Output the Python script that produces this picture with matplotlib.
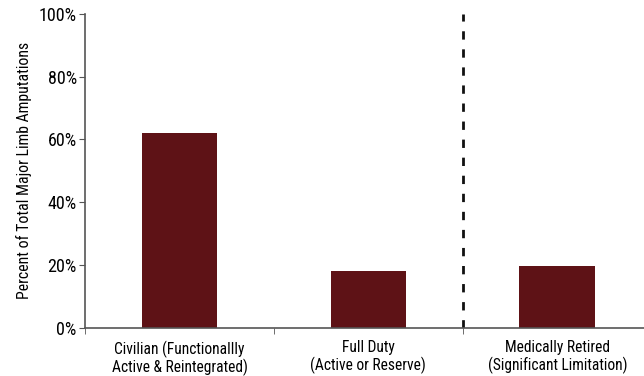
import matplotlib.pyplot as plt
from matplotlib.ticker import FuncFormatter

categories = ["Civilian (Functionallly\nActive & Reintegrated)",
              "Full Duty\n(Active or Reserve)",
              "Medically Retired\n(Significant Limitation)"]
values = [62, 18.2, 19.7]
y_ticks = [0, 20, 40, 60, 80, 100]

plt.rcParams['font.family'] = ['Roboto Condensed', 'DejaVu Sans']

fig = plt.figure(figsize=(6.44, 3.76), dpi=100)
ax = fig.add_axes([0.132, 0.128, 0.880, 0.835])

x = range(len(categories))
ax.bar(x, values, width=0.40, color='#5e1216')
ax.axvline(1.5, color='#111111', linestyle=(0, (3, 3.5)), linewidth=2)

ax.set_xlim(-0.5, 2.5)
ax.set_ylim(0, 100)
ax.set_yticks(y_ticks)
ax.yaxis.set_major_formatter(FuncFormatter(lambda v, p: f"{v:.0f}%"))
ax.set_ylabel("Percent of Total Major Limb Amputations", fontsize=11.3, labelpad=5)

# category labels in the middle, tick marks on the boundaries
ax.set_xticks(list(x))
ax.set_xticklabels(categories, fontsize=11.2, linespacing=1.1)
ax.tick_params(axis='x', length=0, pad=9)
ax.set_xticks([-0.5, 0.5, 1.5, 2.5], minor=True)
ax.tick_params(axis='x', which='minor', length=4, direction='out', color='#555555')
ax.tick_params(axis='y', labelsize=13, length=4, direction='out', color='#555555', pad=2)

for s in ['top', 'right']:
    ax.spines[s].set_visible(False)
for s in ['left', 'bottom']:
    ax.spines[s].set_color('#555555')
    ax.spines[s].set_linewidth(1.2)

fig.savefig("out.png", dpi=100)
